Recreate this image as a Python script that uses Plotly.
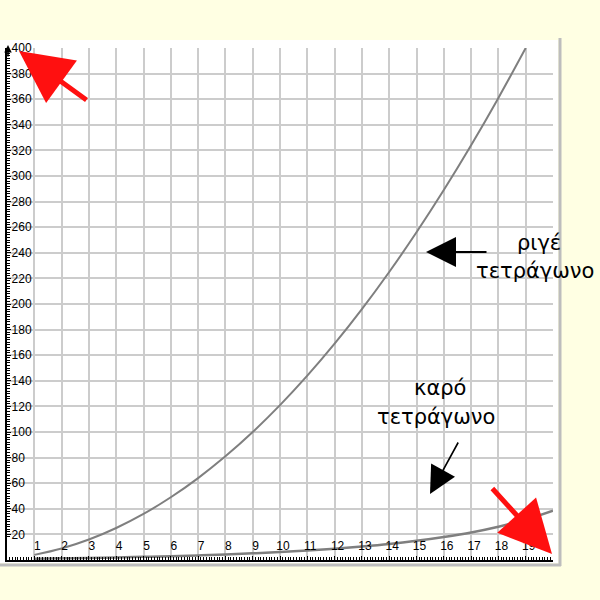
import plotly.graph_objects as go

# ---- data ----
x_upper = list(range(1, 20))
y_upper = [4, 9, 16, 25, 36, 49, 64, 81, 100, 121, 144, 169, 196, 225, 256, 289, 324, 361, 400]

x_lower = list(range(1, 21))
y_lower = [1, 1.3, 1.6, 2, 2.5, 3, 3.6, 4.3, 5.2, 6.2, 7.4, 8.8, 10.5, 12.5, 15, 18, 21.5, 26, 31.5, 38.5]

x_ticks = list(range(1, 21))
x_ticktext = [str(v) for v in range(1, 20)] + [""]
y_ticks = list(range(20, 401, 20))

label_upper = ["ριγέ", "τετράγωνο"]
label_lower = ["καρό", "τετράγωνο"]

# ---- layout geometry ----
W, H = 600, 600
L, R, T, B = 7, 47, 48, 40
PW, PH = W - L - R, H - T - B


def P(px, py):
    return (px - L) / PW, (H - B - py) / PH


FONT = "Liberation Sans, Arial, sans-serif"
LABEL_FONT = "DejaVu Sans, Verdana, sans-serif"
GRID = "#CCCCCC"
CURVE = "#7F7F7F"

fig = go.Figure()
fig.add_trace(go.Scatter(x=x_upper, y=y_upper, mode="lines",
                         line=dict(color=CURVE, width=2, shape="spline"),
                         hoverinfo="skip", showlegend=False))
fig.add_trace(go.Scatter(x=x_lower, y=y_lower, mode="lines",
                         line=dict(color=CURVE, width=2.5, shape="spline"),
                         hoverinfo="skip", showlegend=False))

annotations = []


def arrow(tip, tail, color, width, size):
    x, y = P(*tip)
    annotations.append(dict(
        x=x, y=y, xref="paper", yref="paper", text="", showarrow=True,
        ax=tail[0] - tip[0], ay=tail[1] - tip[1],
        arrowhead=2, arrowwidth=width, arrowsize=size, arrowcolor=color,
        standoff=0, startstandoff=0))


def label(txt, cx, cy, size=21):
    x, y = P(cx, cy)
    annotations.append(dict(
        x=x, y=y, xref="paper", yref="paper", text=txt, showarrow=False,
        xanchor="center", yanchor="middle",
        font=dict(family=LABEL_FONT, size=size, color="black")))


# red arrows
arrow((19, 51), (88, 101), "#FF1010", 5, 2.1)
arrow((552, 554), (491, 487), "#FF1010", 5, 2.1)
# black arrows
arrow((426, 252), (488, 252), "black", 2, 3.0)
arrow((430, 494), (459, 441), "black", 1.6, 3.4)
# small axis arrowheads
arrow((8, 45), (8, 58), "black", 1.5, 1.0)

label(label_upper[0], 539, 243)
label(label_upper[1], 535, 271)
label(label_lower[0], 440, 388)
label(label_lower[1], 436, 417)

shapes = [
    dict(type="rect", xref="paper", yref="paper", layer="below",
         x0=P(0, 0)[0], x1=P(558, 0)[0], y0=P(0, 563)[1], y1=P(0, 40)[1],
         fillcolor="white", line=dict(width=0)),
    dict(type="line", xref="paper", yref="paper",
         x0=P(560, 0)[0], x1=P(560, 0)[0], y0=P(0, 566)[1], y1=P(0, 38)[1],
         line=dict(color="#BDBDBD", width=3)),
    dict(type="line", xref="paper", yref="paper",
         x0=P(0, 0)[0], x1=P(561, 0)[0], y0=P(0, 565)[1], y1=P(0, 565)[1],
         line=dict(color="#BDBDBD", width=3)),
]

fig.update_layout(
    width=W, height=H,
    margin=dict(l=L, r=R, t=T, b=B, pad=0),
    paper_bgcolor="#FFFFE3",
    plot_bgcolor="white",
    showlegend=False,
    annotations=annotations,
    shapes=shapes,
    font=dict(family=FONT, size=12, color="black"),
)

fig.update_xaxes(
    range=[0, 20], tickmode="array", tickvals=x_ticks, ticktext=x_ticktext,
    ticklabelposition="inside", ticklabelshift=3, ticklabelstandoff=3,
    ticks="inside", ticklen=4, tickcolor="black", tickwidth=1,
    minor=dict(dtick=0.1, ticks="inside", ticklen=3, tickcolor="black", tickwidth=1, showgrid=False),
    showgrid=True, gridcolor=GRID, gridwidth=2,
    showline=True, linecolor="black", linewidth=2,
    zeroline=False, fixedrange=True,
    tickfont=dict(family=FONT, size=12, color="black"),
)
fig.update_yaxes(
    range=[0, 400], tickmode="array", tickvals=y_ticks,
    ticklabelposition="inside", ticklabeloverflow="allow",
    ticks="inside", ticklen=4, tickcolor="black", tickwidth=1,
    minor=dict(dtick=2, ticks="inside", ticklen=3, tickcolor="black", tickwidth=1, showgrid=False),
    showgrid=True, gridcolor=GRID, gridwidth=2,
    showline=True, linecolor="black", linewidth=2,
    zeroline=False, fixedrange=True,
    tickfont=dict(family=FONT, size=12, color="black"),
)

fig.write_html(
    "out.html",
    config={"displayModeBar": False},
    post_script="document.body.style.margin='0';document.body.style.background='#FFFFE3';",
)
